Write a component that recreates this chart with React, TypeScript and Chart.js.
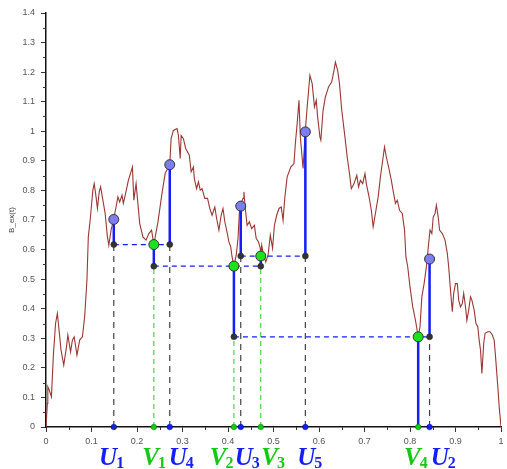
import React, { useEffect, useRef } from 'react';
import { Chart, registerables } from 'chart.js';

Chart.register(...registerables);

// Brownian excursion path B_ex(t)
const curveX = [
  0, 0.003, 0.004, 0.007, 0.012, 0.016, 0.021, 0.025, 0.028, 0.033,
  0.039, 0.045, 0.048, 0.054, 0.058, 0.062, 0.068, 0.074, 0.080, 0.085,
  0.090, 0.093, 0.097, 0.103, 0.106, 0.110, 0.113, 0.117, 0.120, 0.125,
  0.130, 0.135, 0.138, 0.143, 0.148, 0.154, 0.158, 0.162, 0.167, 0.170,
  0.175, 0.181, 0.190, 0.193, 0.198, 0.206, 0.213, 0.220, 0.226, 0.232,
  0.237, 0.246, 0.255, 0.262, 0.272, 0.275, 0.280, 0.288, 0.291, 0.295,
  0.297, 0.302, 0.307, 0.315, 0.319, 0.324, 0.326, 0.331, 0.335, 0.339,
  0.343, 0.349, 0.355, 0.360, 0.365, 0.371, 0.375, 0.380, 0.385, 0.389,
  0.393, 0.397, 0.402, 0.406, 0.409, 0.413, 0.418, 0.422, 0.425, 0.429,
  0.433, 0.435, 0.438, 0.442, 0.447, 0.452, 0.458, 0.462, 0.467, 0.471,
  0.472, 0.474, 0.478, 0.483, 0.488, 0.493, 0.498, 0.502, 0.507, 0.512,
  0.517, 0.521, 0.525, 0.530, 0.538, 0.545, 0.548, 0.552, 0.556, 0.559,
  0.565, 0.570, 0.574, 0.580, 0.585, 0.590, 0.594, 0.597, 0.602, 0.604,
  0.609, 0.614, 0.621, 0.628, 0.633, 0.636, 0.641, 0.645, 0.650, 0.657,
  0.662, 0.667, 0.671, 0.677, 0.683, 0.687, 0.691, 0.696, 0.701, 0.704,
  0.710, 0.715, 0.719, 0.724, 0.730, 0.735, 0.739, 0.744, 0.748, 0.753,
  0.759, 0.764, 0.768, 0.772, 0.777, 0.783, 0.788, 0.791, 0.795, 0.800,
  0.806, 0.812, 0.818, 0.822, 0.826, 0.831, 0.836, 0.841, 0.844, 0.848,
  0.851, 0.855, 0.858, 0.862, 0.865, 0.871, 0.877, 0.882, 0.885, 0.889,
  0.893, 0.896, 0.900, 0.904, 0.907, 0.911, 0.915, 0.918, 0.922, 0.925,
  0.929, 0.933, 0.936, 0.941, 0.945, 0.949, 0.952, 0.955, 0.958, 0.962,
  0.965, 0.971, 0.976, 0.981, 0.985, 0.988, 0.993, 0.996, 1.0,
];
const curveY = [
  0, 0.080, 0.136, 0.125, 0.102, 0.238, 0.350, 0.384, 0.339, 0.260,
  0.209, 0.271, 0.311, 0.254, 0.294, 0.305, 0.243, 0.294, 0.305, 0.373,
  0.497, 0.643, 0.699, 0.801, 0.823, 0.778, 0.739, 0.795, 0.812, 0.767,
  0.722, 0.643, 0.615, 0.666, 0.699, 0.744, 0.778, 0.761, 0.784, 0.756,
  0.790, 0.834, 0.879, 0.767, 0.823, 0.688, 0.643, 0.632, 0.654, 0.666,
  0.617, 0.693, 0.791, 0.858, 0.887, 0.975, 1.003, 1.009, 0.986, 0.908,
  0.986, 0.975, 0.942, 0.919, 0.863, 0.879, 0.840, 0.806, 0.829, 0.801,
  0.806, 0.773, 0.773, 0.739, 0.716, 0.744, 0.705, 0.666, 0.716, 0.739,
  0.694, 0.666, 0.626, 0.609, 0.575, 0.544, 0.581, 0.637, 0.727, 0.756,
  0.773, 0.795, 0.739, 0.682, 0.694, 0.671, 0.682, 0.637, 0.626, 0.604,
  0.578, 0.615, 0.581, 0.558, 0.581, 0.649, 0.604, 0.682, 0.716, 0.739,
  0.744, 0.699, 0.778, 0.846, 0.879, 0.891, 0.958, 1.026, 1.105, 0.981,
  0.874, 1.003, 1.082, 1.189, 1.161, 1.082, 1.105, 1.048, 0.981, 0.970,
  1.071, 1.116, 1.150, 1.167, 1.206, 1.234, 1.206, 1.161, 1.071, 0.981,
  0.913, 0.857, 0.806, 0.823, 0.851, 0.812, 0.834, 0.823, 0.857, 0.823,
  0.778, 0.733, 0.677, 0.722, 0.778, 0.846, 0.891, 0.947, 0.913, 0.879,
  0.834, 0.790, 0.756, 0.767, 0.733, 0.722, 0.666, 0.575, 0.542, 0.474,
  0.406, 0.361, 0.305, 0.339, 0.440, 0.485, 0.542, 0.621, 0.666, 0.654,
  0.710, 0.722, 0.750, 0.710, 0.666, 0.654, 0.632, 0.587, 0.542, 0.463,
  0.390, 0.452, 0.485, 0.485, 0.429, 0.406, 0.418, 0.452, 0.406, 0.361,
  0.395, 0.440, 0.429, 0.395, 0.350, 0.339, 0.294, 0.260, 0.181, 0.283,
  0.317, 0.322, 0.322, 0.311, 0.294, 0.238, 0.136, 0.069, 0,
];

// U points (U1..U5): position, value, and lower level of their blue stem
const uX = [0.149, 0.843, 0.428, 0.272, 0.570];
const uY = [0.702, 0.568, 0.747, 0.887, 0.998];
const uBase = [0.617, 0.305, 0.578, 0.617, 0.578];

// V points (V1..V4)
const vX = [0.237, 0.413, 0.472, 0.818];
const vY = [0.617, 0.544, 0.578, 0.305];
const vBase = [0.544, 0.305, 0.544, 0];

// dashed horizontal connectors
const hX0 = [0.149, 0.237, 0.428, 0.413];
const hX1 = [0.272, 0.472, 0.570, 0.843];
const hY = [0.617, 0.544, 0.578, 0.305];

const xTickValues = [0, 0.1, 0.2, 0.3, 0.4, 0.5, 0.6, 0.7, 0.8, 0.9, 1];
const xTickLabels = ['0', '0.1', '0.2', '0.3', '0.4', '0.5', '0.6', '0.7', '0.8', '0.9', '1'];
const yTickValues = [0, 0.1, 0.2, 0.3, 0.4, 0.5, 0.6, 0.7, 0.8, 0.9, 1, 1.1, 1.2, 1.3, 1.4];
const yTickLabels = ['0', '0.1', '0.2', '0.3', '0.4', '0.5', '0.6', '0.7', '0.8', '0.9', '1', '1.1', '1.2', '1.3', '1.4'];

const yTitle = 'B_ex(t)';

// point labels under the axis
const labelLetters = ['U', 'V', 'U', 'V', 'U', 'V', 'U', 'V', 'U'];
const labelSubs = ['1', '1', '4', '2', '3', '3', '5', '4', '2'];
const labelLeftX = [0.1167, 0.2115, 0.2696, 0.360, 0.4146, 0.473, 0.552, 0.787, 0.8457];

const BLUE = 'rgb(20,30,250)';
const GREEN = 'rgb(20,200,20)';

function segments(xs: number[], y0: number[], y1: number[]) {
  const out: any[] = [];
  xs.forEach((x, i) => {
    out.push({ x, y: y0[i] }, { x, y: y1[i] }, { x, y: null });
  });
  return out;
}

const overlayPlugin = {
  id: 'overlay',
  afterDraw(chart: any) {
    const ctx = chart.ctx;
    const xs = chart.scales.x;
    const ys = chart.scales.y;
    ctx.save();
    // minor ticks
    ctx.strokeStyle = '#333';
    ctx.lineWidth = 1;
    ctx.beginPath();
    for (let i = 0; i < 10; i++) {
      const px = Math.round(xs.getPixelForValue(0.05 + 0.1 * i)) + 0.5;
      ctx.moveTo(px, ys.bottom);
      ctx.lineTo(px, ys.bottom + 3);
    }
    for (let i = 0; i < 14; i++) {
      const py = Math.round(ys.getPixelForValue(0.05 + 0.1 * i)) + 0.5;
      ctx.moveTo(xs.left - 3, py);
      ctx.lineTo(xs.left, py);
    }
    ctx.stroke();

    // y title
    ctx.save();
    ctx.translate(12, (ys.top + ys.bottom) / 2);
    ctx.rotate(-Math.PI / 2);
    ctx.fillStyle = '#444';
    ctx.font = '8px "Liberation Sans", sans-serif';
    ctx.textAlign = 'center';
    ctx.textBaseline = 'middle';
    ctx.fillText(yTitle, 0, 0);
    ctx.restore();

    // U / V labels
    const base = ys.bottom + 38;
    labelLetters.forEach((letter, i) => {
      const color = letter === 'U' ? BLUE : GREEN;
      const x0 = xs.getPixelForValue(labelLeftX[i]);
      ctx.fillStyle = color;
      ctx.textAlign = 'left';
      ctx.textBaseline = 'alphabetic';
      ctx.font = 'italic bold 25px "Liberation Serif", serif';
      ctx.fillText(letter, x0, base);
      const w = ctx.measureText(letter).width;
      ctx.font = 'bold 16px "Liberation Serif", serif';
      ctx.fillText(labelSubs[i], x0 + w - 1, base + 3);
    });
    ctx.restore();
  },
};

export default function App() {
  const ref = useRef<HTMLCanvasElement | null>(null);

  useEffect(() => {
    if (!ref.current) return;
    const curve = curveX.map((x, i) => ({ x, y: curveY[i] }));
    const uIdx = uX.map((_, i) => i);
    const vIdx3 = [0, 1, 2];

    const chart = new Chart(ref.current, {
      type: 'line',
      data: {
        datasets: [
          {
            label: 'B_ex',
            data: curve,
            borderColor: 'rgb(155,55,50)',
            borderWidth: 1.1,
            pointRadius: 0,
            tension: 0,
            order: 20,
          },
          {
            label: 'U drop',
            data: segments(uX, uX.map(() => 0), uBase),
            borderColor: '#444',
            borderWidth: 1.2,
            borderDash: [6, 5],
            pointRadius: 0,
            order: 15,
          },
          {
            label: 'V drop',
            data: segments(vIdx3.map((i) => vX[i]), vIdx3.map(() => 0), vIdx3.map((i) => vBase[i])),
            borderColor: 'rgb(60,210,60)',
            borderWidth: 1.1,
            borderDash: [5, 4],
            pointRadius: 0,
            order: 15,
          },
          {
            label: 'levels',
            data: hY.flatMap((y, i) => [{ x: hX0[i], y }, { x: hX1[i], y }, { x: hX1[i], y: null }]),
            borderColor: BLUE,
            borderWidth: 1.3,
            borderDash: [5, 4],
            pointRadius: 0,
            order: 14,
          },
          {
            label: 'U stems',
            data: segments(uX, uBase, uY),
            borderColor: BLUE,
            borderWidth: 2.5,
            pointRadius: 0,
            order: 10,
          },
          {
            label: 'V stems',
            data: segments(vX, vBase, vY),
            borderColor: BLUE,
            borderWidth: 2.5,
            pointRadius: 0,
            order: 10,
            clip: false,
          },
          {
            label: 'bases',
            data: [
              ...uIdx.map((i) => ({ x: uX[i], y: uBase[i] })),
              ...vIdx3.map((i) => ({ x: vX[i], y: vBase[i] })),
            ],
            showLine: false,
            pointRadius: 3,
            pointBackgroundColor: '#333',
            pointBorderColor: '#222',
            pointBorderWidth: 0.5,
            order: 5,
          },
          {
            label: 'U axis',
            data: uX.map((x) => ({ x, y: 0 })),
            showLine: false,
            pointRadius: 2.8,
            pointBackgroundColor: BLUE,
            pointBorderColor: 'rgb(0,0,160)',
            pointBorderWidth: 0.5,
            clip: false,
            order: 4,
          },
          {
            label: 'V axis',
            data: vX.map((x) => ({ x, y: 0 })),
            showLine: false,
            pointRadius: 2.8,
            pointBackgroundColor: GREEN,
            pointBorderColor: 'rgb(0,120,0)',
            pointBorderWidth: 0.5,
            clip: false,
            order: 4,
          },
          {
            label: 'U',
            data: uX.map((x, i) => ({ x, y: uY[i] })),
            showLine: false,
            pointRadius: 5,
            pointBackgroundColor: 'rgb(125,125,240)',
            pointBorderColor: '#333',
            pointBorderWidth: 1,
            order: 1,
          },
          {
            label: 'V',
            data: vX.map((x, i) => ({ x, y: vY[i] })),
            showLine: false,
            pointRadius: 5,
            pointBackgroundColor: 'rgb(30,225,30)',
            pointBorderColor: '#333',
            pointBorderWidth: 1,
            order: 1,
          },
        ],
      },
      options: {
        animation: false,
        responsive: false,
        parsing: true,
        spanGaps: false,
        layout: { padding: { left: 0, top: 13, right: 1, bottom: 0 } },
        plugins: {
          legend: { display: false },
          tooltip: { enabled: false },
          title: { display: false },
        },
        scales: {
          x: {
            type: 'linear',
            position: 'bottom',
            min: 0,
            max: 1,
            afterBuildTicks: (s: any) => {
              s.ticks = xTickValues.map((value) => ({ value }));
            },
            afterFit: (s: any) => {
              s.height = 42;
              s.paddingLeft = 0;
              s.paddingRight = 0;
            },
            grid: { display: true, drawOnChartArea: false, drawTicks: true, tickLength: 5, color: '#333' },
            border: { display: true, color: '#111', width: 1.5 },
            ticks: {
              autoSkip: false,
              maxRotation: 0,
              padding: 4,
              color: '#555',
              font: { size: 9, family: '"Liberation Sans", sans-serif' },
              callback: (_v: any, i: number) => xTickLabels[i],
            },
          },
          y: {
            type: 'linear',
            position: 'left',
            min: 0,
            max: 1.4,
            afterBuildTicks: (s: any) => {
              s.ticks = yTickValues.map((value) => ({ value }));
            },
            afterFit: (s: any) => {
              s.width = 46;
              s.paddingTop = 0;
              s.paddingBottom = 0;
            },
            grid: { display: true, drawOnChartArea: false, drawTicks: true, tickLength: 5, color: '#333' },
            border: { display: true, color: '#111', width: 1.5 },
            ticks: {
              autoSkip: false,
              padding: 6,
              color: '#555',
              font: { size: 9, family: '"Liberation Sans", sans-serif' },
              callback: (_v: any, i: number) => yTickLabels[i],
            },
          },
        },
      } as any,
      plugins: [overlayPlugin],
    });
    return () => chart.destroy();
  }, []);

  return (
    <div style={{ position: 'absolute', left: 0, top: 0, width: 507, height: 469, background: '#fff' }}>
      <canvas ref={ref} width={507} height={469} style={{ width: 507, height: 469, display: 'block' }} />
    </div>
  );
}
